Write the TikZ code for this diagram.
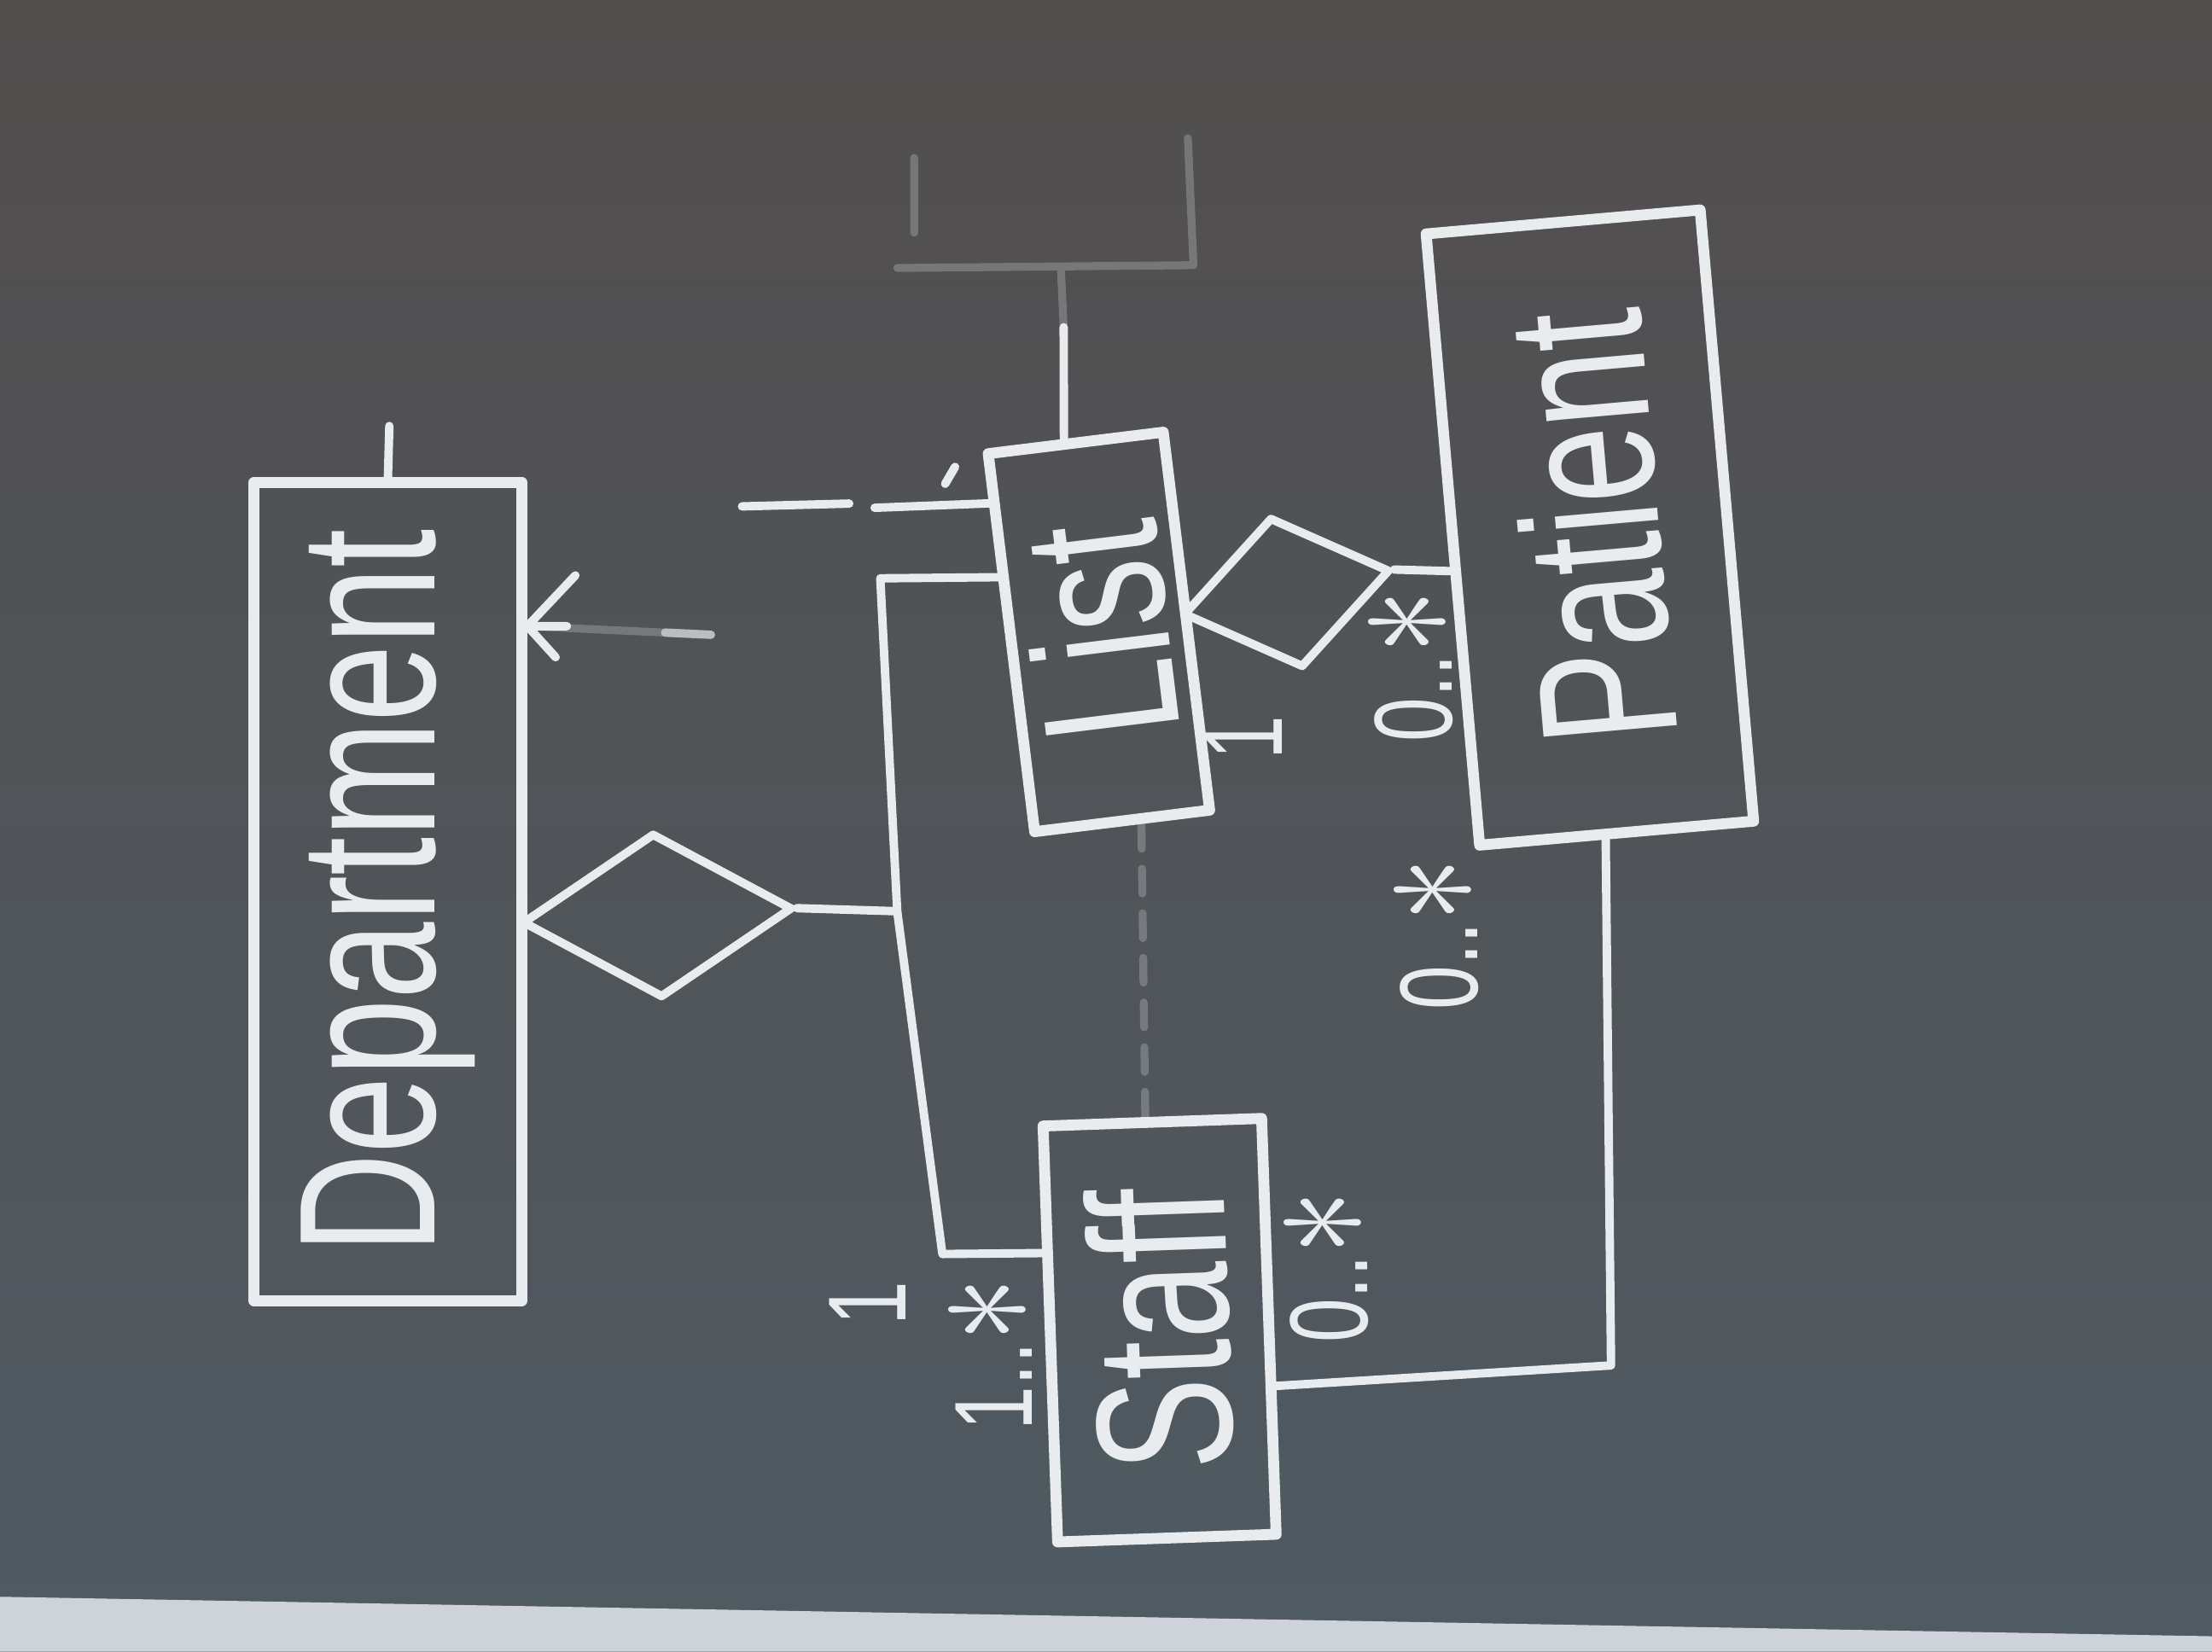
\documentclass[tikz,border=0pt]{standalone}
\usepackage{fontspec}
\usepackage{tikz}
\usetikzlibrary{shapes.geometric,calc}

\newfontfamily\chalkfont{Liberation Sans}
\definecolor{chalk}{RGB}{232,236,238}
\definecolor{boardtop}{RGB}{82,78,78}
\definecolor{boardbot}{RGB}{79,90,98}
\definecolor{ledge}{RGB}{205,211,216}

\tikzset{
	chalk line/.style={draw=chalk, line width=2.2pt, line cap=round, line join=round},
	entity/.style={chalk line, rectangle, inner sep=0pt, text=chalk, font=\chalkfont\fontsize{28}{30}\selectfont},
	relation/.style={chalk line, diamond, inner sep=0pt, line width=1.7pt},
	link/.style={chalk line, line width=1.7pt},
	ghost/.style={chalk line, line width=1.6pt, draw opacity=0.25},
	card/.style={text=chalk, inner sep=0pt, font=\chalkfont\fontsize{16}{18}\selectfont}
}
\newcommand{\chalktext}[1]{\rotatebox{90}{\scalebox{1}[1.4]{#1}}}
\newcommand{\bigast}{\scalebox{1.5}{$\ast$}}

\begin{document}
\begin{tikzpicture}[x=0.1mm, y=-0.1mm]
	% board
	\shade[top color=boardtop, bottom color=boardbot] (0,0) rectangle (1568,1171);
	\fill[ledge] (0,1132) -- (1568,1160) -- (1568,1171) -- (0,1171) -- cycle;
	\useasboundingbox (0,0) rectangle (1568,1171);
	%
	\node[entity, minimum width=19mm, minimum height=58mm] (dept) at (275,632) {\chalktext{Department}};
	\node[entity, minimum width=12.5mm, minimum height=27mm, rotate=7] (list) at (779,448) {\chalktext{List}};
	\node[entity, minimum width=15.5mm, minimum height=29.5mm, rotate=2] (staff) at (822,943) {\chalktext{Staff}};
	\node[entity, minimum width=19.5mm, minimum height=43.5mm, rotate=5] (patient) at (1127,374) {\chalktext{Patient}};
	%
	\node[relation, minimum width=19.2mm, minimum height=11.7mm, rotate=3] (deptrel) at (466,649) {};
	\node[relation, minimum width=15mm, minimum height=10.9mm, rotate=12] (listrel) at (912,420) {};
	%
	\coordinate (btop) at (624,410);
	\coordinate (bmid) at (636,646);
	\coordinate (bbot) at (668,889);
	\draw[link] ($(list.north west)!0.33!(list.south west)$) -- (btop) -- (bmid) -- (bbot)
		-- ($(staff.north west)!0.31!(staff.south west)$);
	\draw[link] (deptrel.east) -- (bmid);
	\draw[link] (listrel.east) -- ($(patient.north west)!0.55!(patient.south west)$);
	\coordinate (pcorner) at (1142,968);
	\draw[link] ($(patient.south west)!0.46!(patient.south east)$) -- (pcorner)
		-- ($(staff.north east)!0.64!(staff.south east)$);
	\draw[ghost, dash pattern=on 5pt off 4pt] ($(list.south west)!0.6!(list.south east)$)
		-- ($(staff.north west)!0.47!(staff.north east)$);
	%
	\coordinate (deptstub) at (276,302);
	\draw[link] (dept.north) -- (deptstub);
	\coordinate (cf) at ($(dept.north east)!0.18!(dept.south east)$);
	\coordinate (cfend) at (504,450);
	\draw[ghost] (cf) -- (cfend);
	\draw[link] (cf) -- ++(34,-36) (cf) -- ++(20,22) (cf) -- ++(28,0);
	\draw[link, draw opacity=0.6] ($(cf)!0.75!(cfend)$) -- (cfend);
	%
	\coordinate (lm) at ($(list.north west)!0.14!(list.south west)$);
	\coordinate (lmend) at (620,360);
	\coordinate (lma) at (602,357);
	\coordinate (lmb) at (526,359);
	\coordinate (lmc) at (670,343);
	\coordinate (lmd) at (677,331);
	\draw[link] (lm) -- (lmend) (lma) -- (lmb) (lmc) -- (lmd);
	%
	\coordinate (lup) at (754,232);
	\coordinate (ghosttop) at (752,190);
	\draw[link] ($(list.north west)!0.44!(list.north east)$) -- (lup);
	\draw[ghost] (lup) -- (ghosttop) (648,112) -- (648,165) (636,190) -- (846,188) -- (842,98);
	%
	\node[card] (c1) at (1000,472) {\chalktext{0..\bigast}};
	\node[card] (c2) at (1018,662) {\chalktext{0..\bigast}};
	\node[card] (c3) at (940,898) {\chalktext{0..\bigast}};
	\node[card] (c4) at (702,960) {\chalktext{1..\bigast}};
	\node[card] (c5) at (615,924) {\chalktext{1}};
	\node[card] (c6) at (882,523) {\chalktext{1}};
\end{tikzpicture}
\end{document}
